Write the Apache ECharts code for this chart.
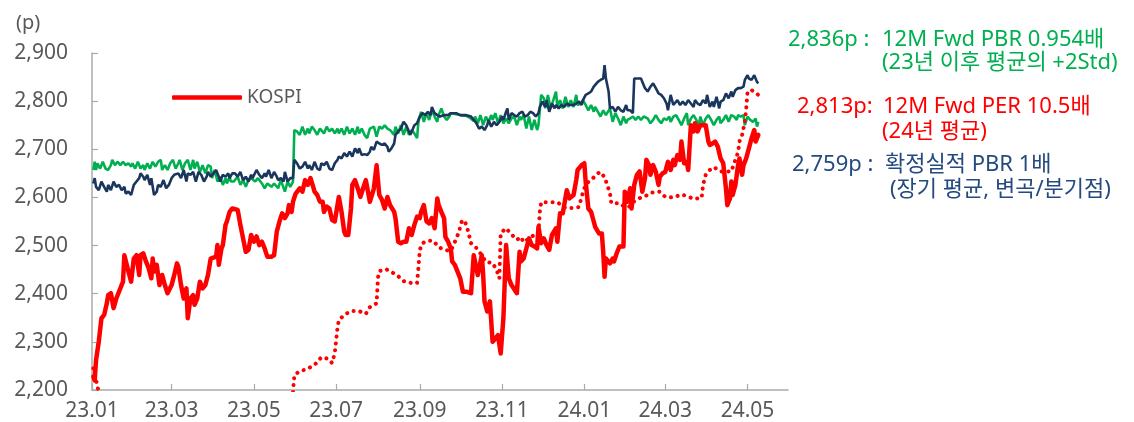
<!DOCTYPE html>
<html>
<head>
<meta charset="utf-8">
<script src="https://cdn.jsdelivr.net/npm/echarts@6/dist/echarts.min.js"></script>
<style>
html,body{margin:0;padding:0;background:#fff;}
#chart{width:1134px;height:422px;}
</style>
</head>
<body>
<div id="chart"></div>
<script>
// ---- data (dates as yy-mm-dd) ----
const yTicks = [2200, 2300, 2400, 2500, 2600, 2700, 2800, 2900];
const axisStart = '2023-01-01';
const axisEnd = '2024-05-31';

const kospi = [
['23-01-02',2228],['23-01-03',2220],['23-01-04',2262],['23-01-06',2300],['23-01-08',2349],['23-01-10',2356],['23-01-12',2380],['23-01-13',2397],['23-01-15',2401],['23-01-17',2370],['23-01-19',2390],['23-01-21',2404],['23-01-24',2425],['23-01-25',2480],['23-01-26',2484],['23-01-28',2446],['23-01-30',2425],
['23-02-01',2473],['23-02-03',2480],['23-02-05',2439],['23-02-06',2480],['23-02-08',2484],['23-02-10',2467],['23-02-12',2453],['23-02-14',2432],['23-02-15',2473],['23-02-16',2446],['23-02-18',2460],['23-02-20',2418],['23-02-22',2439],['23-02-24',2418],['23-02-26',2401],
['23-03-01',2418],['23-03-03',2439],['23-03-05',2463],['23-03-06',2456],['23-03-08',2418],['23-03-10',2390],['23-03-12',2411],['23-03-13',2349],['23-03-15',2390],['23-03-17',2397],['23-03-18',2377],['23-03-20',2390],['23-03-22',2425],['23-03-24',2411],['23-03-26',2418],['23-03-28',2439],['23-03-30',2473],['23-03-31',2477],
['23-04-03',2477],['23-04-04',2501],['23-04-05',2460],['23-04-07',2494],['23-04-08',2501],['23-04-10',2543],['23-04-11',2550],['23-04-13',2570],['23-04-15',2577],['23-04-19',2574],['23-04-21',2543],['23-04-23',2515],['23-04-25',2487],['23-04-27',2491],['23-04-29',2522],
['23-05-01',2508],['23-05-03',2519],['23-05-05',2501],['23-05-07',2508],['23-05-09',2494],['23-05-11',2477],['23-05-14',2477],['23-05-16',2480],['23-05-18',2529],['23-05-20',2550],['23-05-22',2567],['23-05-24',2557],['23-05-26',2567],['23-05-27',2584],['23-05-29',2570],['23-05-30',2591],
['23-06-01',2608],['23-06-04',2619],['23-06-06',2612],['23-06-08',2636],['23-06-09',2640],['23-06-10',2626],['23-06-12',2640],['23-06-14',2622],['23-06-15',2612],['23-06-17',2605],['23-06-19',2591],['23-06-21',2591],['23-06-22',2570],['23-06-24',2581],['23-06-26',2577],['23-06-28',2553],['23-06-30',2550],
['23-07-02',2584],['23-07-03',2601],['23-07-05',2570],['23-07-07',2529],['23-07-08',2522],['23-07-10',2522],['23-07-12',2577],['23-07-13',2626],['23-07-15',2636],['23-07-17',2619],['23-07-19',2601],['23-07-21',2619],['23-07-23',2636],['23-07-24',2640],['23-07-26',2591],['23-07-29',2619],['23-07-31',2667],
['23-08-02',2605],['23-08-04',2595],['23-08-06',2577],['23-08-08',2601],['23-08-10',2584],['23-08-13',2570],['23-08-14',2557],['23-08-16',2508],['23-08-18',2505],['23-08-20',2508],['23-08-22',2508],['23-08-24',2536],['23-08-26',2522],['23-08-28',2543],['23-08-30',2560],
['23-09-01',2557],['23-09-02',2570],['23-09-04',2584],['23-09-06',2550],['23-09-08',2546],['23-09-10',2557],['23-09-12',2536],['23-09-14',2598],['23-09-15',2584],['23-09-17',2570],['23-09-19',2557],['23-09-20',2518],['23-09-22',2508],['23-09-24',2494],['23-09-25',2467],['23-09-27',2460],['23-09-29',2446],
['23-10-01',2432],['23-10-03',2404],['23-10-06',2404],['23-10-09',2401],['23-10-11',2480],['23-10-13',2453],['23-10-14',2439],['23-10-17',2480],['23-10-18',2439],['23-10-19',2384],['23-10-21',2363],['23-10-23',2384],['23-10-25',2300],['23-10-27',2307],['23-10-29',2314],['23-10-31',2276],
['23-11-02',2349],['23-11-04',2501],['23-11-06',2432],['23-11-08',2418],['23-11-12',2401],['23-11-14',2487],['23-11-15',2467],['23-11-17',2473],['23-11-19',2494],['23-11-21',2515],['23-11-23',2501],['23-11-25',2498],['23-11-27',2494],['23-11-28',2539],['23-11-30',2505],
['23-12-02',2515],['23-12-04',2501],['23-12-06',2491],['23-12-08',2522],['23-12-09',2522],['23-12-11',2536],['23-12-12',2508],['23-12-14',2567],['23-12-16',2567],['23-12-19',2615],['23-12-21',2598],['23-12-22',2601],['23-12-24',2605],['23-12-26',2636],['23-12-27',2657],['23-12-30',2667],
['24-01-01',2671],['24-01-02',2633],['24-01-04',2577],['24-01-06',2570],['24-01-08',2550],['24-01-09',2539],['24-01-12',2525],['24-01-14',2525],['24-01-15',2487],['24-01-16',2435],['24-01-17',2473],['24-01-20',2463],['24-01-22',2473],['24-01-23',2467],['24-01-25',2484],['24-01-27',2498],['24-01-30',2498],['24-01-31',2612],
['24-02-02',2591],['24-02-04',2619],['24-02-05',2577],['24-02-07',2626],['24-02-09',2647],['24-02-11',2654],['24-02-13',2612],['24-02-15',2640],['24-02-16',2678],['24-02-18',2667],['24-02-19',2647],['24-02-21',2667],['24-02-23',2653],['24-02-25',2626],['24-02-26',2643],['24-02-28',2650],
['24-03-01',2653],['24-03-03',2674],['24-03-05',2657],['24-03-07',2678],['24-03-08',2667],['24-03-10',2688],['24-03-12',2678],['24-03-13',2716],['24-03-15',2671],['24-03-17',2674],['24-03-18',2657],['24-03-20',2750],['24-03-22',2737],['24-03-23',2754],['24-03-25',2737],['24-03-27',2750],['24-03-29',2750],['24-03-31',2750],
['24-04-02',2716],['24-04-03',2709],['24-04-05',2712],['24-04-07',2716],['24-04-09',2705],['24-04-11',2681],['24-04-13',2671],['24-04-15',2619],['24-04-16',2584],['24-04-18',2598],['24-04-19',2633],['24-04-20',2605],['24-04-22',2626],['24-04-24',2667],['24-04-25',2681],['24-04-27',2647],['24-04-28',2667],['24-04-30',2681],
['24-05-02',2702],['24-05-04',2723],['24-05-06',2740],['24-05-07',2716],['24-05-09',2730]
];

const pbrFwd = [
['23-01-02',2657],['23-01-03',2674],['23-01-04',2657],['23-01-05',2671],['23-01-07',2660],['23-01-09',2674],['23-01-11',2660],['23-01-13',2657],['23-01-15',2667],['23-01-16',2678],['23-01-18',2667],['23-01-20',2674],['23-01-22',2667],['23-01-24',2674],['23-01-26',2667],['23-01-28',2671],['23-01-30',2664],['23-01-31',2671],
['23-02-02',2660],['23-02-04',2674],['23-02-06',2660],['23-02-08',2667],['23-02-09',2657],['23-02-11',2671],['23-02-13',2660],['23-02-15',2674],['23-02-17',2664],['23-02-19',2674],['23-02-21',2678],['23-02-22',2657],['23-02-24',2667],['23-02-26',2657],['23-02-28',2671],
['23-03-02',2678],['23-03-04',2660],['23-03-06',2671],['23-03-07',2678],['23-03-09',2657],['23-03-11',2671],['23-03-13',2678],['23-03-15',2657],['23-03-17',2678],['23-03-18',2660],['23-03-20',2674],['23-03-22',2653],['23-03-24',2667],['23-03-26',2650],['23-03-28',2667],['23-03-30',2664],['23-03-31',2640],
['23-04-02',2657],['23-04-04',2633],['23-04-06',2643],['23-04-08',2626],['23-04-10',2640],['23-04-11',2629],['23-04-13',2643],['23-04-14',2633],['23-04-16',2633],['23-04-19',2643],['23-04-21',2626],['23-04-23',2636],['23-04-25',2622],['23-04-27',2636],['23-04-29',2640],
['23-05-02',2633],['23-05-04',2640],['23-05-07',2629],['23-05-09',2619],['23-05-11',2629],['23-05-14',2622],['23-05-16',2629],['23-05-19',2619],['23-05-21',2636],['23-05-24',2612],['23-05-26',2633],['23-05-28',2622],['23-05-30',2633],['23-05-31',2740],
['23-06-02',2737],['23-06-04',2730],['23-06-06',2747],['23-06-08',2730],['23-06-10',2743],['23-06-11',2733],['23-06-13',2747],['23-06-15',2740],['23-06-17',2730],['23-06-19',2743],['23-06-20',2747],['23-06-22',2733],['23-06-24',2747],['23-06-26',2737],['23-06-28',2743],['23-06-30',2733],
['23-07-02',2743],['23-07-03',2733],['23-07-05',2743],['23-07-07',2730],['23-07-09',2747],['23-07-11',2733],['23-07-13',2743],['23-07-15',2730],['23-07-17',2747],['23-07-18',2733],['23-07-20',2743],['23-07-22',2730],['23-07-24',2723],['23-07-26',2743],['23-07-29',2747],['23-07-31',2726],
['23-08-02',2747],['23-08-04',2743],['23-08-06',2750],['23-08-08',2743],['23-08-10',2740],['23-08-13',2730],['23-08-14',2747],['23-08-16',2733],['23-08-18',2750],['23-08-20',2730],['23-08-22',2747],['23-08-24',2730],['23-08-26',2740],['23-08-28',2733],['23-08-30',2723],['23-08-31',2757],
['23-09-02',2778],['23-09-04',2757],['23-09-06',2775],['23-09-08',2761],['23-09-10',2781],['23-09-12',2768],['23-09-14',2757],['23-09-15',2771],['23-09-17',2785],['23-09-19',2768],['23-09-21',2761],['23-09-23',2768],['23-09-24',2775],['23-09-28',2773],
['23-10-01',2771],['23-10-05',2770],['23-10-08',2766],['23-10-11',2759],['23-10-12',2768],['23-10-14',2754],['23-10-16',2771],['23-10-18',2750],['23-10-20',2768],['23-10-22',2757],['23-10-24',2771],['23-10-25',2761],['23-10-27',2775],['23-10-29',2754],['23-10-31',2771],
['23-11-02',2754],['23-11-04',2764],['23-11-06',2754],['23-11-08',2764],['23-11-10',2768],['23-11-12',2750],['23-11-14',2768],['23-11-15',2761],['23-11-17',2771],['23-11-19',2743],['23-11-21',2768],['23-11-23',2740],['23-11-25',2761],['23-11-27',2740],['23-11-28',2750],['23-11-30',2813],
['23-12-02',2806],['23-12-03',2785],['23-12-05',2813],['23-12-07',2785],['23-12-09',2802],['23-12-11',2820],['23-12-12',2788],['23-12-14',2802],['23-12-16',2785],['23-12-18',2809],['23-12-20',2788],['23-12-22',2802],['23-12-24',2788],['23-12-26',2813],['23-12-27',2792],['23-12-29',2795],['23-12-31',2802],
['24-01-02',2792],['24-01-04',2781],['24-01-06',2792],['24-01-08',2778],['24-01-09',2788],['24-01-11',2778],['24-01-13',2768],['24-01-15',2781],['24-01-17',2771],['24-01-18',2775],['24-01-20',2785],['24-01-22',2757],['24-01-24',2775],['24-01-26',2764],['24-01-28',2750],['24-01-30',2768],
['24-02-01',2754],['24-02-02',2761],['24-02-04',2764],['24-02-06',2768],['24-02-08',2761],['24-02-10',2768],['24-02-12',2761],['24-02-14',2768],['24-02-17',2764],['24-02-18',2768],['24-02-19',2754],['24-02-21',2761],['24-02-23',2771],['24-02-25',2761],['24-02-27',2754],['24-02-29',2764],
['24-03-02',2761],['24-03-04',2768],['24-03-05',2757],['24-03-07',2768],['24-03-09',2771],['24-03-11',2761],['24-03-13',2750],['24-03-15',2764],['24-03-17',2775],['24-03-18',2750],['24-03-20',2764],['24-03-22',2771],['24-03-24',2761],['24-03-26',2750],['24-03-27',2768],['24-03-29',2750],['24-03-31',2764],
['24-04-02',2771],['24-04-04',2761],['24-04-06',2750],['24-04-08',2761],['24-04-10',2768],['24-04-11',2754],['24-04-13',2761],['24-04-15',2771],['24-04-17',2757],['24-04-19',2771],['24-04-21',2768],['24-04-23',2761],['24-04-24',2771],['24-04-26',2768],['24-04-28',2771],['24-04-29',2750],
['24-05-01',2768],['24-05-03',2761],['24-05-05',2757],['24-05-07',2764],['24-05-08',2747],['24-05-09',2757]
];

const pbrActual = [
['23-01-02',2629],['23-01-03',2640],['23-01-04',2622],['23-01-06',2615],['23-01-08',2633],['23-01-10',2622],['23-01-12',2612],['23-01-13',2626],['23-01-15',2615],['23-01-17',2633],['23-01-19',2622],['23-01-21',2626],['23-01-23',2615],['23-01-25',2622],['23-01-26',2608],['23-01-28',2612],['23-01-30',2605],
['23-02-01',2626],['23-02-03',2633],['23-02-05',2640],['23-02-06',2650],['23-02-08',2643],['23-02-09',2636],['23-02-11',2647],['23-02-13',2626],['23-02-14',2640],['23-02-16',2605],['23-02-18',2612],['23-02-19',2626],['23-02-21',2622],['23-02-23',2636],['23-02-25',2619],['23-02-27',2626],
['23-03-01',2640],['23-03-03',2647],['23-03-04',2643],['23-03-06',2650],['23-03-08',2640],['23-03-10',2657],['23-03-12',2633],['23-03-13',2650],['23-03-15',2647],['23-03-17',2653],['23-03-19',2633],['23-03-21',2653],['23-03-23',2647],['23-03-25',2633],['23-03-27',2643],['23-03-28',2653],['23-03-30',2643],
['23-04-01',2650],['23-04-03',2657],['23-04-05',2643],['23-04-06',2633],['23-04-08',2647],['23-04-10',2643],['23-04-12',2650],['23-04-13',2640],['23-04-15',2650],['23-04-17',2650],['23-04-19',2643],['23-04-21',2653],['23-04-23',2636],['23-04-25',2643],['23-04-27',2633],['23-04-29',2647],['23-04-30',2640],
['23-05-03',2657],['23-05-05',2647],['23-05-07',2640],['23-05-09',2650],['23-05-10',2643],['23-05-12',2657],['23-05-14',2640],['23-05-16',2653],['23-05-18',2643],['23-05-19',2636],['23-05-21',2640],['23-05-23',2633],['23-05-24',2653],['23-05-26',2633],['23-05-28',2640],['23-05-30',2640],['23-05-31',2678],
['23-06-02',2671],['23-06-04',2660],['23-06-06',2664],['23-06-08',2674],['23-06-10',2660],['23-06-11',2667],['23-06-13',2657],['23-06-15',2674],['23-06-17',2660],['23-06-19',2657],['23-06-20',2671],['23-06-22',2667],['23-06-24',2674],['23-06-26',2660],['23-06-28',2657],['23-06-30',2671],
['23-07-02',2678],['23-07-03',2685],['23-07-05',2681],['23-07-07',2692],['23-07-09',2685],['23-07-11',2695],['23-07-13',2685],['23-07-15',2702],['23-07-17',2692],['23-07-18',2702],['23-07-20',2688],['23-07-22',2690],['23-07-24',2688],['23-07-26',2695],['23-07-27',2705],['23-07-29',2699],['23-07-31',2716],
['23-08-02',2712],['23-08-04',2709],['23-08-06',2712],['23-08-08',2705],['23-08-09',2695],['23-08-11',2702],['23-08-13',2712],['23-08-14',2730],['23-08-16',2737],['23-08-18',2743],['23-08-20',2757],['23-08-22',2750],['23-08-23',2754],['23-08-25',2730],['23-08-27',2743],['23-08-28',2750],['23-08-30',2754],
['23-09-01',2768],['23-09-03',2775],['23-09-05',2771],['23-09-07',2778],['23-09-09',2771],['23-09-10',2788],['23-09-12',2775],['23-09-14',2771],['23-09-16',2768],['23-09-19',2771],['23-09-22',2771],['23-09-24',2775],['23-09-28',2775],
['23-10-01',2771],['23-10-05',2771],['23-10-09',2768],['23-10-11',2761],['23-10-13',2754],['23-10-15',2743],['23-10-17',2747],['23-10-19',2740],['23-10-21',2750],['23-10-22',2761],['23-10-24',2747],['23-10-26',2757],['23-10-28',2750],['23-10-30',2757],
['23-11-01',2768],['23-11-02',2761],['23-11-04',2778],['23-11-05',2785],['23-11-06',2761],['23-11-08',2775],['23-11-10',2771],['23-11-12',2768],['23-11-14',2775],['23-11-16',2778],['23-11-18',2768],['23-11-20',2771],['23-11-22',2778],['23-11-24',2775],['23-11-26',2768],['23-11-28',2775],['23-11-29',2788],
['23-12-01',2799],['23-12-03',2788],['23-12-04',2802],['23-12-06',2778],['23-12-08',2795],['23-12-10',2785],['23-12-11',2792],['23-12-13',2785],['23-12-15',2792],['23-12-17',2788],['23-12-19',2795],['23-12-21',2792],['23-12-22',2795],['23-12-24',2792],['23-12-26',2795],['23-12-28',2799],['23-12-30',2792],['23-12-31',2802],
['24-01-02',2813],['24-01-04',2816],['24-01-06',2820],['24-01-08',2830],['24-01-09',2827],['24-01-11',2840],['24-01-13',2844],['24-01-15',2847],['24-01-16',2875],['24-01-17',2847],['24-01-18',2847],['24-01-19',2820],['24-01-20',2785],['24-01-22',2788],['24-01-24',2778],['24-01-26',2788],['24-01-28',2781],['24-01-30',2778],
['24-02-01',2792],['24-02-02',2781],['24-02-04',2781],['24-02-06',2775],['24-02-07',2847],['24-02-09',2847],['24-02-12',2847],['24-02-13',2840],['24-02-15',2827],['24-02-17',2820],['24-02-19',2830],['24-02-21',2837],['24-02-23',2827],['24-02-25',2816],['24-02-27',2813],['24-02-29',2806],
['24-03-02',2795],['24-03-03',2781],['24-03-05',2813],['24-03-07',2792],['24-03-08',2788],['24-03-10',2802],['24-03-12',2792],['24-03-14',2799],['24-03-16',2792],['24-03-18',2802],['24-03-20',2795],['24-03-22',2788],['24-03-23',2802],['24-03-25',2795],['24-03-27',2792],['24-03-29',2802],['24-03-31',2795],
['24-04-01',2813],['24-04-03',2788],['24-04-05',2799],['24-04-06',2788],['24-04-08',2809],['24-04-10',2785],['24-04-11',2799],['24-04-13',2802],['24-04-15',2816],['24-04-17',2806],['24-04-19',2820],['24-04-20',2809],['24-04-22',2823],['24-04-24',2827],['24-04-26',2827],['24-04-28',2830],['24-04-29',2844],
['24-05-01',2854],['24-05-02',2847],['24-05-04',2844],['24-05-06',2854],['24-05-07',2851],['24-05-08',2840],['24-05-09',2837]
];

// 2150 values are off-scale estimates (line runs below the axis there)
const perFwd = [
['23-01-02',2245],['23-01-03',2232],['23-01-04',2221],['23-01-05',2208],['23-01-06',2195],['23-01-09',2150],['23-05-27',2150],['23-05-30',2196],['23-05-31',2231],
['23-06-04',2239],['23-06-09',2243],['23-06-15',2252],['23-06-20',2268],['23-06-25',2265],['23-06-28',2256],['23-06-30',2277],
['23-07-02',2329],['23-07-03',2345],['23-07-07',2356],['23-07-12',2364],['23-07-18',2364],['23-07-23',2358],['23-07-26',2372],['23-07-31',2380],
['23-08-01',2433],['23-08-02',2447],['23-08-07',2451],['23-08-15',2439],['23-08-20',2426],['23-08-26',2422],['23-08-30',2422],['23-08-31',2455],
['23-09-01',2491],['23-09-03',2505],['23-09-07',2510],['23-09-11',2510],['23-09-15',2497],['23-09-19',2491],['23-09-24',2489],['23-09-28',2514],['23-09-30',2528],
['23-10-02',2549],['23-10-04',2553],['23-10-06',2539],['23-10-09',2505],['23-10-13',2495],['23-10-17',2480],['23-10-20',2466],['23-10-25',2464],['23-10-28',2449],['23-10-30',2432],['23-10-31',2526],
['23-11-04',2536],['23-11-07',2526],['23-11-12',2512],['23-11-15',2518],['23-11-17',2507],['23-11-28',2528],['23-11-29',2570],['23-11-30',2590],
['23-12-06',2590],['23-12-12',2590],['23-12-18',2578],['23-12-23',2578],['23-12-28',2580],['23-12-30',2601],
['24-01-01',2619],['24-01-03',2630],['24-01-06',2636],['24-01-11',2650],['24-01-13',2653],['24-01-16',2642],['24-01-18',2626],['24-01-20',2609],['24-01-21',2588],['24-01-27',2588],['24-01-30',2582],
['24-02-03',2580],['24-02-06',2590],['24-02-09',2595],['24-02-12',2600],['24-02-17',2605],['24-02-20',2610],['24-02-26',2612],
['24-03-01',2601],['24-03-07',2600],['24-03-13',2606],['24-03-18',2602],['24-03-22',2597],['24-03-28',2599],['24-03-29',2626],['24-03-31',2647],
['24-04-03',2657],['24-04-06',2663],['24-04-11',2654],['24-04-19',2654],['24-04-24',2694],['24-04-25',2716],['24-04-27',2730],['24-04-29',2757],['24-04-30',2785],
['24-05-01',2819],['24-05-04',2823],['24-05-09',2813]
];

// ---- build daily category axis ----
function fmt(t){ const d=new Date(t); const y=String(d.getUTCFullYear()).slice(2); const m=String(d.getUTCMonth()+1).padStart(2,'0'); const dd=String(d.getUTCDate()).padStart(2,'0'); return y+'-'+m+'-'+dd; }
const categories=[];
for(let t=Date.parse(axisStart+'T00:00:00Z'); t<=Date.parse(axisEnd+'T00:00:00Z'); t+=86400000){ categories.push(fmt(t)); }
const idx={}; categories.forEach((c,i)=>idx[c]=i);
function build(arr){ const out=new Array(categories.length).fill(null); arr.forEach(([d,v])=>{ out[idx[d]]=v; }); return out; }
function isTick(i,v){ const p=v.split('-'); return p[2]==='01' && (+p[1])%2===1; }

const GRAY='#595959', AXIS='#aaaaaa';
const FONT="'Noto Sans','Noto Sans CJK KR',sans-serif";
const GREEN='#00b050', RED='#ff0000', NAVY='#1b365d', NAVYTXT='#254a7f';

const chart=echarts.init(document.getElementById('chart'),null,{renderer:'canvas'});
function txt(text,x,y,color,size){ return {type:'text',x:x,y:y,silent:true,style:{text:text,fill:color,font:(size||22)+'px '+FONT,textAlign:'left',textVerticalAlign:'middle',align:'left',verticalAlign:'middle'}}; }

chart.setOption({
  animation:false,
  grid:{left:92,right:346,top:53,bottom:32,containLabel:false},
  legend:{data:['KOSPI'],left:172,top:88,padding:0,icon:'roundRect',itemWidth:70,itemHeight:4.5,
    textStyle:{fontSize:19,color:GRAY,fontFamily:FONT}},
  xAxis:{type:'category',data:categories,boundaryGap:false,
    axisLine:{lineStyle:{color:AXIS,width:1.5}},
    axisTick:{show:true,inside:true,length:6,interval:isTick,lineStyle:{color:AXIS,width:1.2}},
    axisLabel:{interval:isTick,formatter:v=>{const p=v.split('-');return p[0]+'.'+p[1];},color:GRAY,fontSize:21,fontFamily:FONT,margin:11},
    splitLine:{show:false}},
  yAxis:{type:'value',min:2200,max:2900,interval:100,
    axisLine:{show:true,lineStyle:{color:AXIS,width:1.5}},
    axisTick:{show:true,inside:true,length:6,lineStyle:{color:AXIS,width:1.2}},
    axisLabel:{formatter:v=>yTicks.includes(v)?v.toLocaleString('en-US'):'',color:GRAY,fontSize:21,fontFamily:FONT,margin:24},
    splitLine:{show:false}},
  series:[
    {name:'12M Fwd PBR 0.954배',type:'line',data:build(pbrFwd),connectNulls:true,showSymbol:false,symbol:'none',
      lineStyle:{color:GREEN,width:2.6},itemStyle:{color:GREEN},z:2},
    {name:'확정실적 PBR 1배',type:'line',data:build(pbrActual),connectNulls:true,showSymbol:false,symbol:'none',
      lineStyle:{color:NAVY,width:2.6},itemStyle:{color:NAVY},z:3},
    {name:'12M Fwd PER 10.5배',type:'line',data:build(perFwd),connectNulls:true,showSymbol:false,symbol:'none',
      lineStyle:{color:RED,width:4,type:[0.1,6.8],cap:'round',join:'round'},itemStyle:{color:RED},z:4},
    {name:'KOSPI',type:'line',data:build(kospi),connectNulls:true,showSymbol:false,symbol:'none',
      lineStyle:{color:RED,width:4.5,join:'round',cap:'round'},itemStyle:{color:RED},z:5}
  ],
  graphic:[
    txt('(p)',16,23,GRAY,20),
    txt('2,836p :',788,40,GREEN), txt('12M Fwd PBR 0.954배',882,40,GREEN),
    txt('(23년 이후 평균의 +2Std)',882,63,GREEN),
    txt('2,813p:',797,107,RED), txt('12M Fwd PER 10.5배',883,107,RED),
    txt('(24년 평균)',882,132,RED),
    txt('2,759p :',792,165,NAVYTXT), txt('확정실적 PBR 1배',885,165,NAVYTXT),
    txt('(장기 평균, 변곡/분기점)',890,190,NAVYTXT)
  ]
});
</script>
</body>
</html>
